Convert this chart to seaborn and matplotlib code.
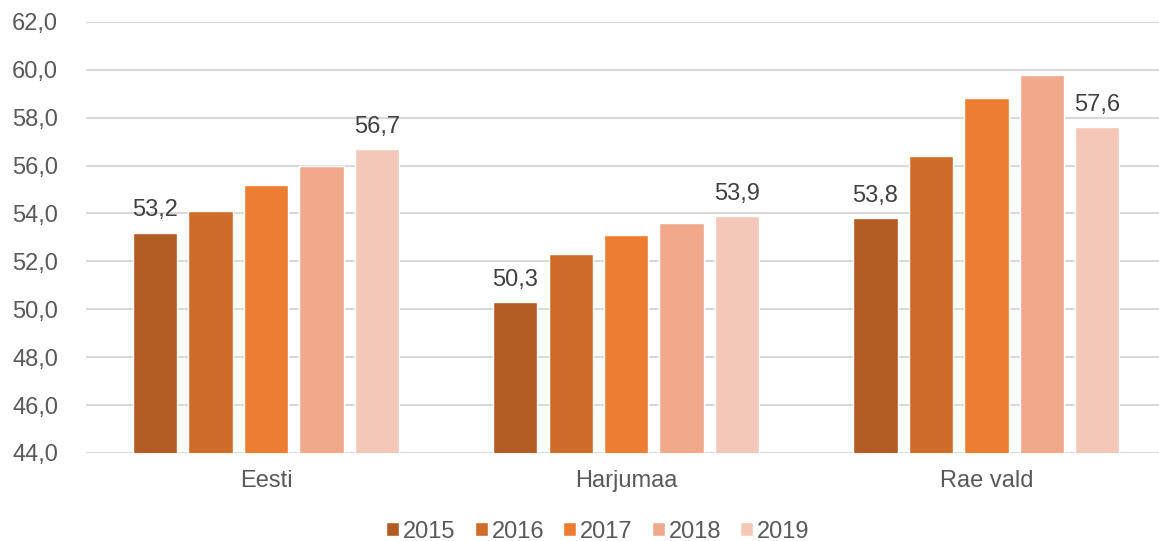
import pandas as pd
import matplotlib.pyplot as plt
import seaborn as sns

regions = ['Eesti', 'Harjumaa', 'Rae vald']
years = ['2015', '2016', '2017', '2018', '2019']
v2015 = [53.2, 50.3, 53.8]
v2016 = [54.1, 52.3, 56.4]
v2017 = [55.2, 53.1, 58.8]
v2018 = [56.0, 53.6, 59.8]
v2019 = [56.7, 53.9, 57.6]
colors = ['#B25B22', '#D06C2A', '#ED7D31', '#F0A98A', '#F5C7B8']

rows = []
for year, vals in zip(years, [v2015, v2016, v2017, v2018, v2019]):
    for reg, v in zip(regions, vals):
        rows.append({'region': reg, 'year': year, 'value': v})
df = pd.DataFrame(rows)

sns.set_style('white')
plt.rcParams['font.family'] = ['Liberation Sans', 'DejaVu Sans']

fig = plt.figure(figsize=(11.59, 5.41), dpi=100)
ax = fig.add_axes([0.0742, 0.1627, 0.926, 0.797])

sns.barplot(data=df, x='region', y='value', hue='year', palette=colors,
            width=0.77, gap=0.2, saturation=1, ax=ax, zorder=3)

# labels only for first and last year
for i, cont in enumerate(ax.containers):
    if i in (0, 4):
        ax.bar_label(cont, labels=[f'{v:.1f}'.replace('.', ',') for v in cont.datavalues],
                     padding=8, fontsize=17, color='#404040')

ax.set_ylim(44, 62)
ax.set_xlim(-0.5, 2.48)
ticks = [44 + 2 * i for i in range(10)]
ax.set_yticks(ticks)
ax.set_yticklabels([f'{t:.1f}'.replace('.', ',') for t in ticks])
ax.grid(axis='y', color='#D9D9D9', linewidth=1.5, zorder=0)
ax.tick_params(axis='both', labelsize=17, colors='#595959', length=0)
ax.tick_params(axis='y', pad=20)
ax.tick_params(axis='x', pad=12)
ax.set_xlabel('')
ax.set_ylabel('')
for s in ax.spines.values():
    s.set_visible(False)

ax.legend(loc='lower center', bbox_to_anchor=(0.477, -0.23), ncol=5, frameon=False,
          fontsize=17, handlelength=0.55, handleheight=0.55, handletextpad=0.17,
          columnspacing=0.8, labelcolor='#595959', borderaxespad=0)

fig.savefig('out.png', dpi=100)
